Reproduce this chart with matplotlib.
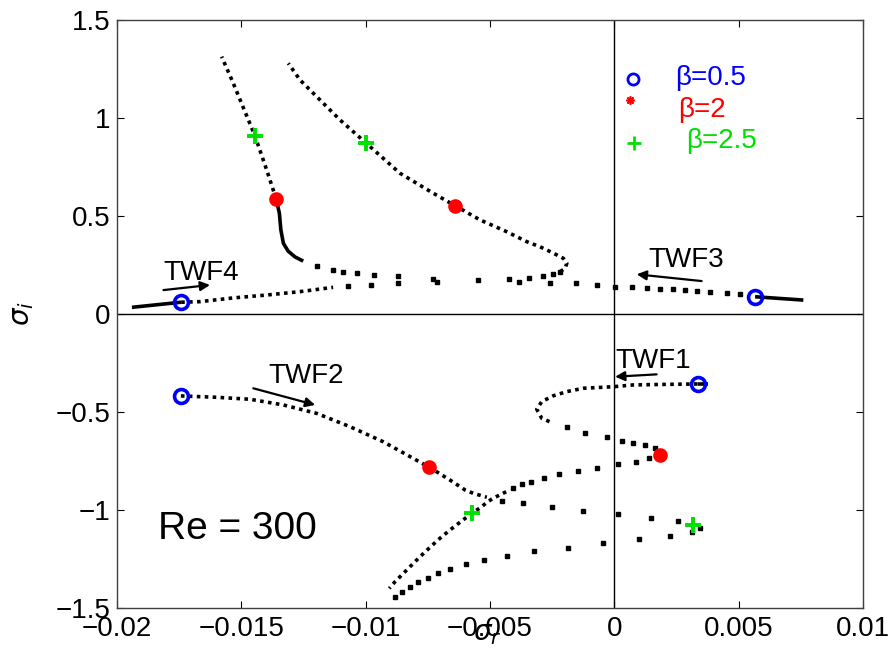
"""Eigenvalue paths of the travelling-wave families TWF1-4 at Re = 300."""

import matplotlib

matplotlib.use("Agg")
import matplotlib.pyplot as plt  # noqa: E402

BLUE = "#0000ff"
RED = "#ff0000"
GREEN = "#00e000"
INK = "black"

# --- upper half: TWF4 and TWF3 meet and split into two branches ------------
twf4_tail_x = [-0.0194, -0.01742]
twf4_tail_y = [0.034, 0.060]
twf4_x = [-0.01742, -0.01666, -0.01533, -0.01396, -0.01264, -0.01131]
twf4_y = [0.060, 0.063, 0.082, 0.097, 0.114, 0.136]
twf4_sparse_x = [-0.01070, -0.00978, -0.00869, -0.00714, -0.00547, -0.00422]
twf4_sparse_y = [0.143, 0.148, 0.157, 0.165, 0.174, 0.179]

twf3_tail_x = [0.00760, 0.00566]
twf3_tail_y = [0.071, 0.088]
twf3_sparse_x = [0.00505, 0.00452, 0.00385, 0.00331, 0.00284, 0.00237, 0.00184,
                 0.00130, 0.00070, 0.00003, -0.00071, -0.00155, -0.00259, -0.00382]
twf3_sparse_y = [0.100, 0.106, 0.114, 0.117, 0.122, 0.126, 0.128,
                 0.131, 0.136, 0.139, 0.148, 0.157, 0.160, 0.165]

left_sparse_x = [-0.00728, -0.00869, -0.00965, -0.01036, -0.01090, -0.01130, -0.01197]
left_sparse_y = [0.177, 0.194, 0.199, 0.211, 0.216, 0.225, 0.245]
left_solid_x = [-0.01251, -0.01284, -0.01312, -0.01331, -0.01341, -0.01347, -0.01360]
left_solid_y = [0.270, 0.291, 0.321, 0.361, 0.429, 0.514, 0.587]
left_x = [-0.01360, -0.01398, -0.01445, -0.01533, -0.01579]
left_y = [0.587, 0.735, 0.908, 1.179, 1.313]

right_sparse_x = [-0.00342, -0.00285, -0.00245, -0.00218]
right_sparse_y = [0.185, 0.195, 0.204, 0.216]
right_x = [-0.00218, -0.00198, -0.00191, -0.00205, -0.00246, -0.00299, -0.00352,
           -0.00433, -0.00540, -0.00641, -0.00728, -0.00862, -0.01000, -0.01103,
           -0.01197, -0.01264, -0.01311]
right_y = [0.216, 0.233, 0.259, 0.284, 0.311, 0.343, 0.369,
           0.420, 0.480, 0.553, 0.616, 0.718, 0.874, 0.990,
           1.109, 1.194, 1.279]

# --- lower half: TWF2 and TWF1 ---------------------------------------------
twf2_x = [-0.01743, -0.01599, -0.01465, -0.01331, -0.01197, -0.01063, -0.00929,
          -0.00821, -0.00744, -0.00661, -0.00600, -0.00567, -0.00513]
twf2_y = [-0.418, -0.425, -0.435, -0.464, -0.507, -0.575, -0.652,
          -0.728, -0.782, -0.847, -0.898, -0.915, -0.935]
twf2_sparse_x = [-0.00453, -0.00366, -0.00252, -0.00125, 0.00014, 0.00146, 0.00255, 0.00345,
                 0.00311, 0.00224, 0.00101, -0.00044, -0.00187, -0.00322, -0.00433,
                 -0.00523, -0.00596, -0.00661, -0.00708, -0.00750, -0.00791, -0.00821,
                 -0.00855, -0.00882]
twf2_sparse_y = [-0.953, -0.966, -0.986, -1.005, -1.020, -1.039, -1.056, -1.093,
                 -1.111, -1.131, -1.150, -1.167, -1.192, -1.209, -1.235,
                 -1.255, -1.277, -1.301, -1.323, -1.345, -1.369, -1.391,
                 -1.420, -1.442]

twf1_tail_x = [0.00378, 0.00335]
twf1_tail_y = [-0.357, -0.357]
twf1_x = [0.00335, 0.00211, 0.00076, -0.00004, -0.00125, -0.00191, -0.00245,
          -0.00292, -0.00312, -0.00292, -0.00245]
twf1_y = [-0.357, -0.359, -0.362, -0.371, -0.379, -0.396, -0.417,
          -0.447, -0.486, -0.532, -0.558]
twf1_sparse_x = [-0.00191, -0.00118, -0.00031, 0.00030, 0.00076, 0.00123, 0.00164,
                 0.00141, 0.00086, 0.00014, -0.00068, -0.00147, -0.00221, -0.00281,
                 -0.00335, -0.00372, -0.00406]
twf1_sparse_y = [-0.578, -0.606, -0.626, -0.648, -0.660, -0.668, -0.685,
                 -0.736, -0.754, -0.767, -0.787, -0.801, -0.816, -0.835,
                 -0.856, -0.867, -0.889]
twf1_low_x = [-0.00435, -0.00462, -0.00487, -0.00513, -0.00533, -0.00573, -0.00618,
              -0.00661, -0.00701, -0.00741, -0.00781, -0.00815, -0.00848, -0.00882,
              -0.00905]
twf1_low_y = [-0.907, -0.924, -0.940, -0.961, -0.983, -1.017, -1.060,
              -1.102, -1.144, -1.190, -1.238, -1.281, -1.323, -1.366,
              -1.400]

# --- beta markers -----------------------------------------------------------
beta05_x = [-0.01742, 0.00566, -0.01743, 0.00335]
beta05_y = [0.060, 0.088, -0.418, -0.357]
beta2_x = [-0.01360, -0.00641, -0.00744, 0.00184]
beta2_y = [0.587, 0.553, -0.782, -0.719]
beta25_x = [-0.01445, -0.01000, -0.00573, 0.00318]
beta25_y = [0.908, 0.874, -1.017, -1.077]

xticks = [-0.02, -0.015, -0.01, -0.005, 0, 0.005, 0.01]
xticklabels = ["\u22120.02", "\u22120.015", "\u22120.01", "\u22120.005", "0", "0.005", "0.01"]
yticks = [-1.5, -1, -0.5, 0, 0.5, 1, 1.5]
yticklabels = ["\u22121.5", "\u22121", "\u22120.5", "0", "0.5", "1", "1.5"]


def _style():
    plt.rcParams.update({
        "font.family": ["Liberation Sans", "DejaVu Sans"],
        "font.size": 20,
        "mathtext.fontset": "dejavusans",
        "axes.edgecolor": "#404040",
        "axes.linewidth": 1.0,
        "xtick.direction": "in", "ytick.direction": "in",
        "xtick.top": True, "ytick.right": True,
        "xtick.major.size": 5, "ytick.major.size": 5,
        "xtick.major.pad": 6, "ytick.major.pad": 5,
        "xtick.labelsize": 20, "ytick.labelsize": 20,
    })


def dotted(ax, x, y):
    ax.plot(x, y, color=INK, lw=2.6, ls=(0, (1, 1.2)), dash_capstyle="butt")


def dots(ax, x, y):
    ax.plot(x, y, ls="none", marker="s", ms=2.8, color=INK)


def solid(ax, x, y):
    ax.plot(x, y, color=INK, lw=2.6, solid_capstyle="butt")


def arrow(ax, tail, head):
    ax.annotate("", xy=head, xytext=tail,
                arrowprops=dict(arrowstyle="-|>", lw=1.6, color=INK,
                                mutation_scale=14, shrinkA=0, shrinkB=0))


def main():
    _style()
    fig = plt.figure(figsize=(8.91, 6.6), dpi=100)
    ax = fig.add_axes([0.1313, 0.0788, 0.8373, 0.8909])

    ax.axhline(0, color=INK, lw=1.0)
    ax.axvline(0, color=INK, lw=1.0)

    solid(ax, twf4_tail_x, twf4_tail_y)
    dotted(ax, twf4_x, twf4_y)
    dots(ax, twf4_sparse_x, twf4_sparse_y)
    solid(ax, twf3_tail_x, twf3_tail_y)
    dots(ax, twf3_sparse_x, twf3_sparse_y)
    dots(ax, left_sparse_x, left_sparse_y)
    solid(ax, left_solid_x, left_solid_y)
    dotted(ax, left_x, left_y)
    dots(ax, right_sparse_x, right_sparse_y)
    dotted(ax, right_x, right_y)

    dotted(ax, twf2_x, twf2_y)
    dots(ax, twf2_sparse_x, twf2_sparse_y)
    solid(ax, twf1_tail_x, twf1_tail_y)
    dotted(ax, twf1_x, twf1_y)
    dots(ax, twf1_sparse_x, twf1_sparse_y)
    dotted(ax, twf1_low_x, twf1_low_y)

    ax.plot(beta05_x, beta05_y, ls="none", marker="o", ms=10, mfc="none",
            mec=BLUE, mew=2.6)
    ax.plot(beta2_x, beta2_y, ls="none", marker="o", ms=9, color=RED,
            mec=RED, mew=1.5)
    ax.plot(beta25_x, beta25_y, ls="none", marker="+", ms=11, color=GREEN, mew=2.8)

    # key in the upper right corner
    ax.plot([0.00074], [1.199], ls="none", marker="o", ms=8, mfc="none", mec=BLUE, mew=2)
    ax.plot([0.00063], [1.092], ls="none", marker=(8, 2, 0), ms=6, color=RED, mew=1.2)
    ax.plot([0.00080], [0.874], ls="none", marker="+", ms=10, color=GREEN, mew=2)
    ax.text(0.00244, 1.168, "\u03b2=0.5", color=BLUE, va="baseline")
    ax.text(0.00257, 1.007, "\u03b2=2", color=RED, va="baseline")
    ax.text(0.00288, 0.845, "\u03b2=2.5", color=GREEN, va="baseline")

    ax.text(-0.01813, 0.173, "TWF4", va="baseline")
    arrow(ax, (-0.01813, 0.122), (-0.01626, 0.148))
    ax.text(0.00137, 0.241, "TWF3", va="baseline")
    arrow(ax, (0.00351, 0.168), (0.00090, 0.2025))
    ax.text(-0.01391, -0.354, "TWF2", va="baseline")
    arrow(ax, (-0.01452, -0.379), (-0.01203, -0.464))
    ax.text(0.00003, -0.277, "TWF1", va="baseline")
    arrow(ax, (0.00170, -0.308), (0.00003, -0.320))

    ax.text(-0.01835, -1.149, "Re = 300", fontsize=28, va="baseline")

    ax.set_xlim(-0.02, 0.01)
    ax.set_ylim(-1.5, 1.5)
    ax.set_xticks(xticks)
    ax.set_xticklabels(xticklabels)
    ax.set_yticks(yticks)
    ax.set_yticklabels(yticklabels)

    # as in the original, sigma_r sits on top of the -0.005 tick label
    ax.set_xlabel(r"$\sigma_r$", fontsize=20)
    ax.xaxis.set_label_coords(0.497, -0.022)
    ax.set_ylabel(r"$\sigma_i$", fontsize=20)
    ax.yaxis.set_label_coords(-0.108, 0.5)

    fig.savefig("out.png", dpi=100)
    plt.close(fig)


if __name__ == "__main__":
    main()
